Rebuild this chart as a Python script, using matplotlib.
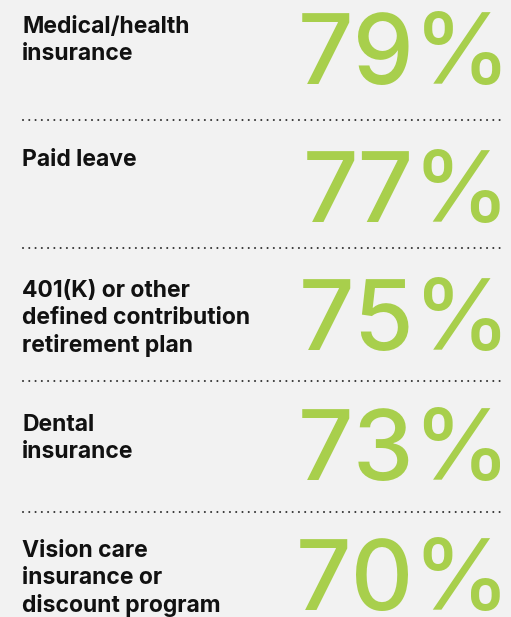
import matplotlib
matplotlib.use("Agg")
import matplotlib.pyplot as plt

# data
categories = [
    "Medical/health\ninsurance",
    "Paid leave",
    "401(K) or other\ndefined contribution\nretirement plan",
    "Dental\ninsurance",
    "Vision care\ninsurance or\ndiscount program",
]
values = [79, 77, 75, 73, 70]

BG = "#f2f2f2"
GREEN = "#a8cf4c"

W, H = 511, 617
fig = plt.figure(figsize=(W / 100, H / 100), dpi=100, facecolor=BG)
ax = fig.add_axes([0, 0, 1, 1])
ax.set_facecolor(BG)
ax.set_xlim(0, W)
ax.set_ylim(H, 0)
ax.axis("off")

# layout (pixels)
label_x = 22
first_baseline = [33, 166, 297, 431, 557]
line_gap = 27.5
num_baseline = [84, 222, 350, 480, 610]
num_right = 511
rule_y = [120, 248, 381, 512]

for cat, base in zip(categories, first_baseline):
    for k, line in enumerate(cat.split("\n")):
        ax.text(label_x, base + k * line_gap, line, fontsize=16.5,
                fontweight="bold", family="Inter", color="#111111",
                ha="left", va="baseline")

for v, base in zip(values, num_baseline):
    ax.text(num_right, base, f"{v}%", fontsize=70, family="Inter",
            fontweight="medium", color=GREEN, ha="right", va="baseline")

for y in rule_y:
    ax.plot([23, 505], [y, y], color="#333333", lw=1.5,
            dashes=[0.01, 3], dash_capstyle="round")

fig.savefig("out.png", dpi=100, facecolor=BG)
